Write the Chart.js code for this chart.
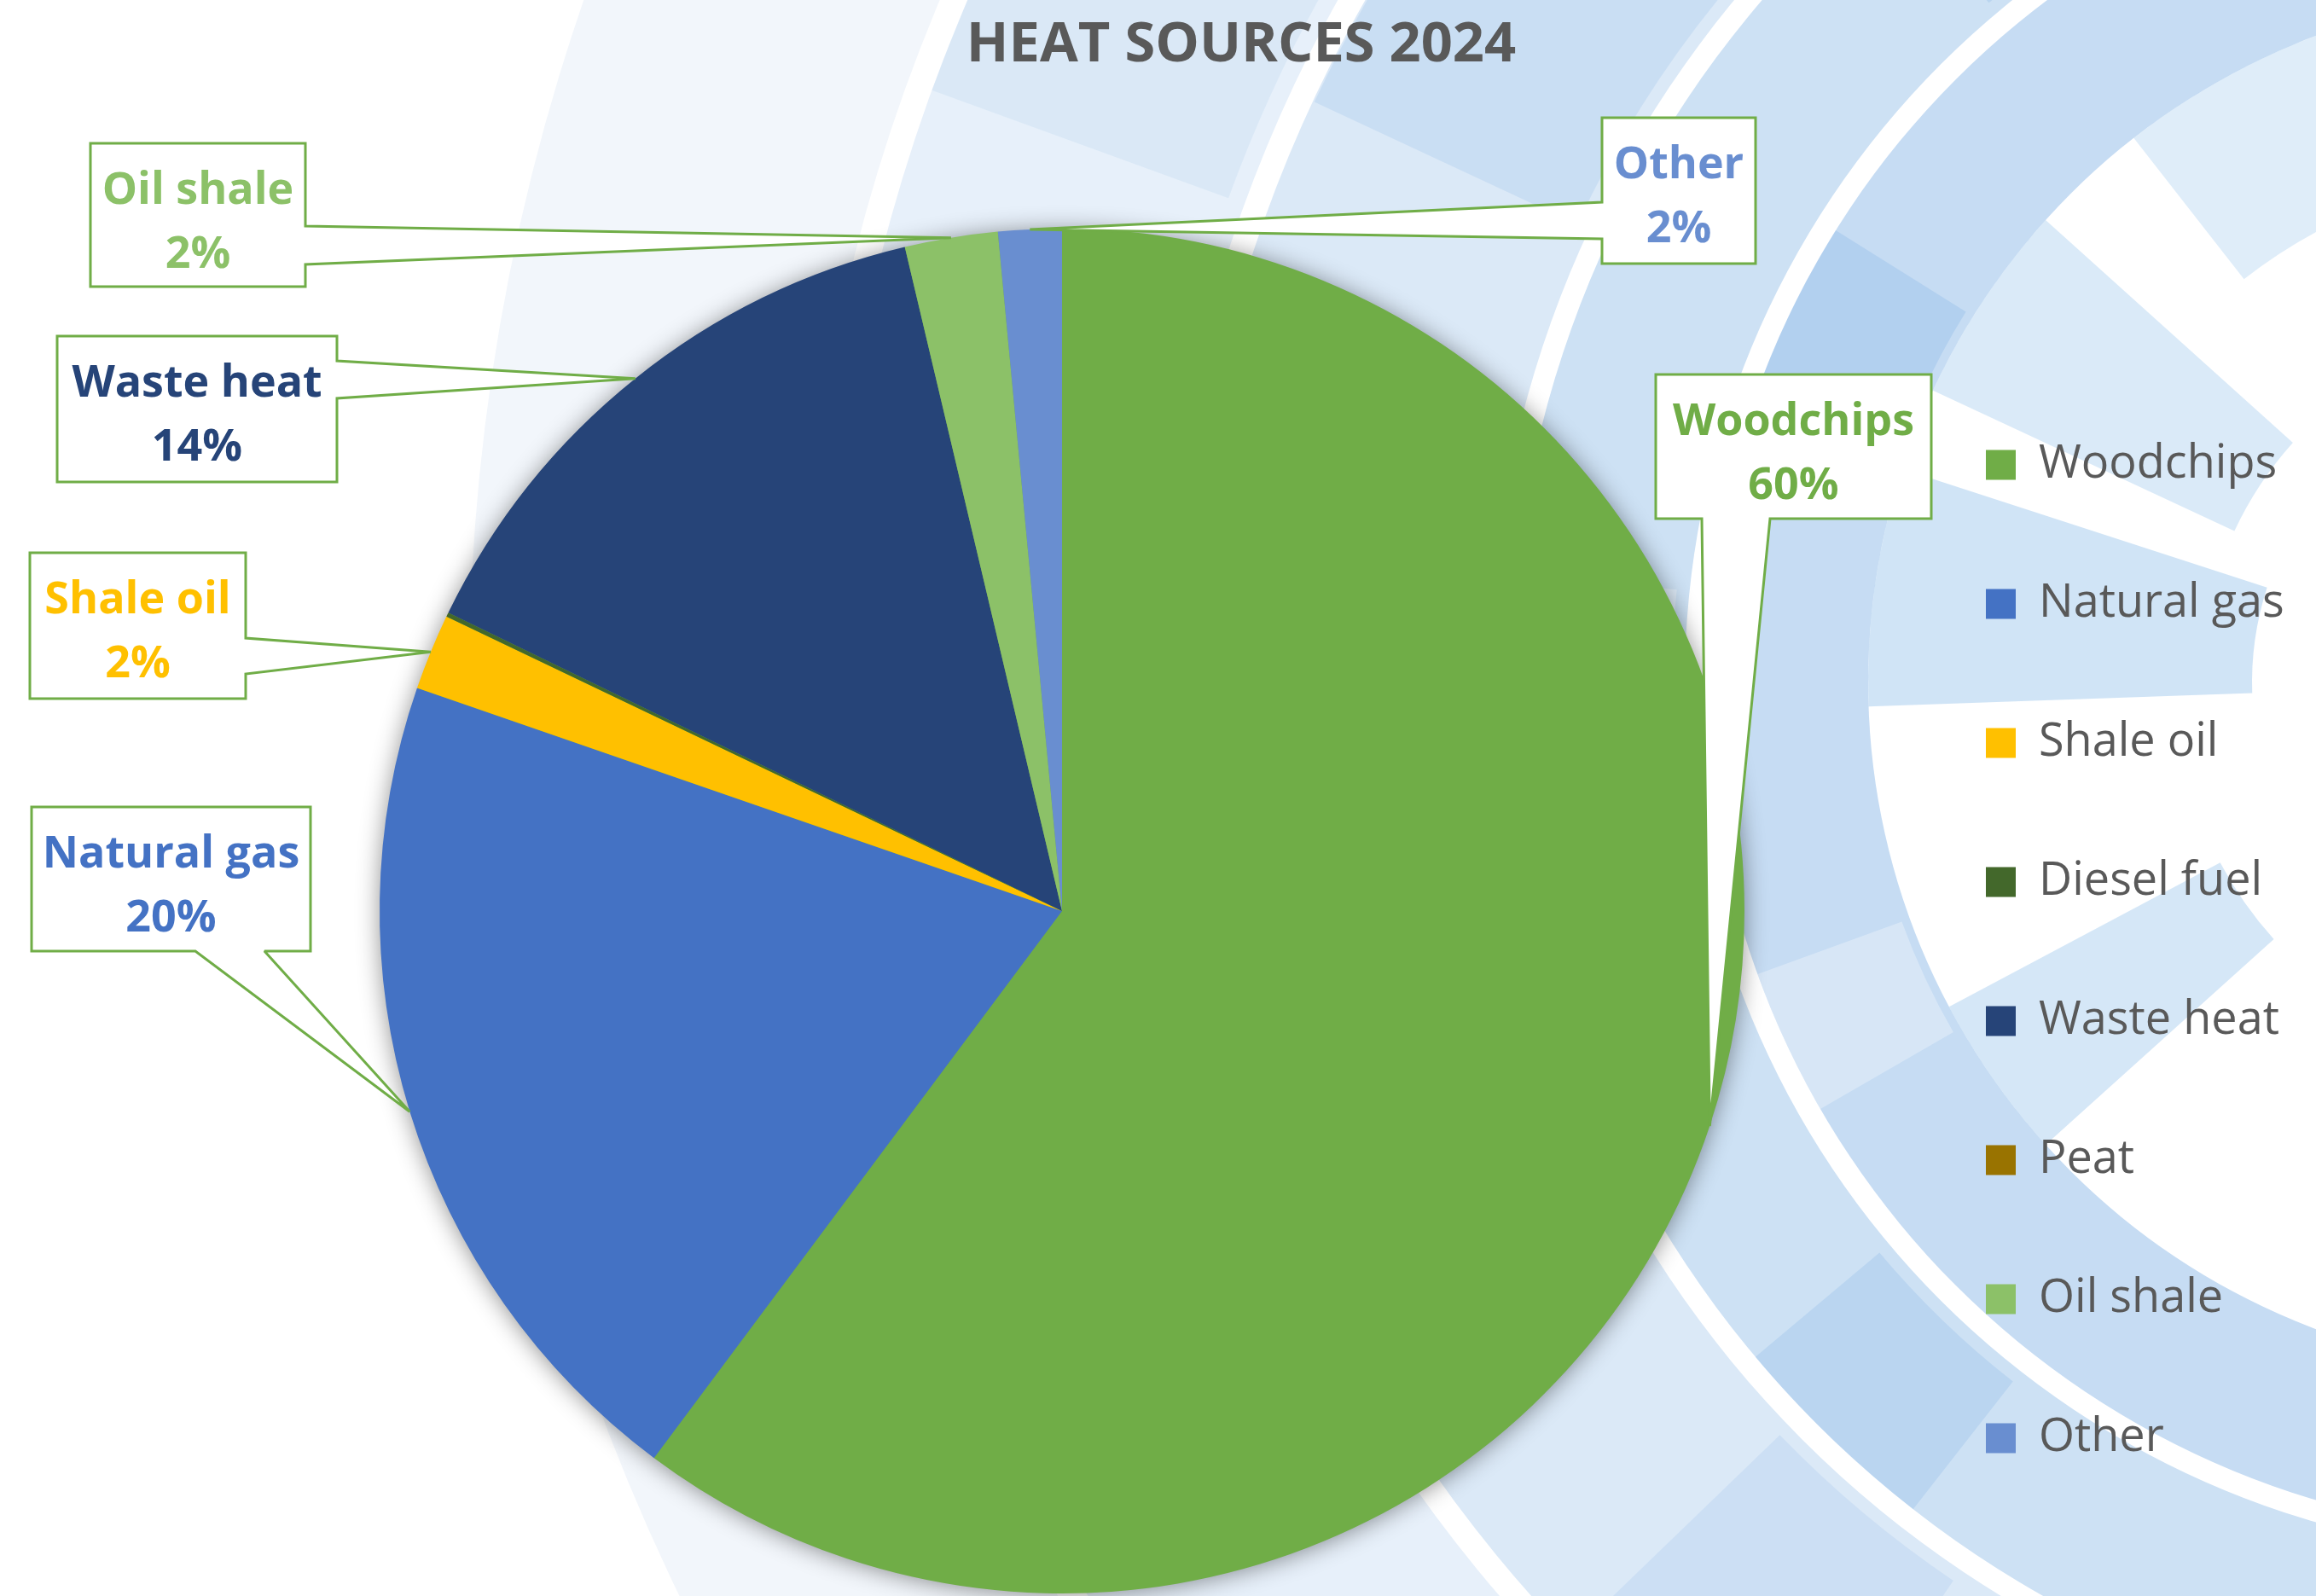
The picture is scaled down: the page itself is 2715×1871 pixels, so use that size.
<!DOCTYPE html>
<html>
<head>
<meta charset="utf-8">
<title>Heat sources 2024</title>
<script src="https://cdn.jsdelivr.net/npm/chart.js@4.4.1/dist/chart.umd.min.js"></script>
<style>
  html, body { margin: 0; padding: 0; background: #fff; }
  #wrap { width: 2715px; height: 1871px; }
</style>
</head>
<body>
<div id="wrap"><canvas id="heatChart" width="2715" height="1871"></canvas></div>
<script>
// ======== Data ========
const sources = ["Woodchips", "Natural gas", "Shale oil", "Diesel fuel", "Waste heat", "Peat", "Oil shale", "Other"];
const shares = [60.2, 20.1, 1.8, 0.1, 14.1, 0, 2.2, 1.5];
const colors = ["#70AD47", "#4472C4", "#FFC000", "#43682B", "#264478", "#997300", "#8CC168", "#698ED0"];
const chartTitle = "HEAT SOURCES 2024";

// callout boxes (label placement only), side = where the pointer leaves the box
const calloutBoxes = {
  "Woodchips":   { x: 1941, y: 439, w: 323, h: 169, side: "bottom", a: 1995, b: 2075 },
  "Natural gas": { x: 37,   y: 946, w: 327, h: 169, side: "bottom", a: 229,  b: 310 },
  "Shale oil":   { x: 35,   y: 648, w: 253, h: 171, side: "right",  a: 748,  b: 790 },
  "Waste heat":  { x: 67,   y: 394, w: 328, h: 171, side: "right",  a: 423,  b: 467 },
  "Oil shale":   { x: 106,  y: 168, w: 252, h: 168, side: "right",  a: 265,  b: 310 },
  "Other":       { x: 1878, y: 138, w: 180, h: 171, side: "left",   a: 237,  b: 280 },
};

// ======== Background rings (decoration) ========
const ringCenter = { x: 3000, y: 800 };
const rings = [
  { r: 2450, color: "#F2F6FB" },
  { r: 2060, color: "#FFFFFF" },
  { r: 2030, color: "#E7F0FA" },
  { r: 1640, color: "#FFFFFF" },
  { r: 1612, color: "#DBE9F7" },
  { r: 1255, color: "#FFFFFF" },
  { r: 1230, color: "#CDE1F4" },
  { r: 1025, color: "#FFFFFF" },
  { r: 1000, color: "#C6DCF3" },
  { r: 810,  color: "#FFFFFF" },
];
const ringPatches = [
  { r0: 1660, r1: 2030, a0: 200, a1: 214, color: "rgba(150,190,230,0.16)" },
  { r0: 1660, r1: 2030, a0: 150, a1: 160, color: "rgba(255,255,255,0.5)" },
  { r0: 1270, r1: 1610, a0: 205, a1: 222, color: "rgba(120,170,225,0.18)" },
  { r0: 1270, r1: 1610, a0: 160, a1: 172, color: "rgba(255,255,255,0.45)" },
  { r0: 1270, r1: 1610, a0: 124, a1: 136, color: "rgba(120,170,225,0.15)" },
  { r0: 1040, r1: 1230, a0: 230, a1: 246, color: "rgba(110,165,225,0.2)" },
  { r0: 1040, r1: 1230, a0: 128, a1: 140, color: "rgba(110,165,225,0.2)" },
  { r0: 1040, r1: 1230, a0: 176, a1: 186, color: "rgba(255,255,255,0.35)" },
  { r0: 820,  r1: 1000, a0: 196, a1: 212, color: "rgba(100,160,225,0.2)" },
  { r0: 820,  r1: 1000, a0: 150, a1: 160, color: "rgba(255,255,255,0.3)" },
  { r0: 360,  r1: 810,  a0: 178, a1: 198, color: "rgba(150,195,235,0.45)" },
  { r0: 420,  r1: 810,  a0: 205, a1: 222, color: "rgba(150,195,235,0.35)" },
  { r0: 450,  r1: 810,  a0: 138, a1: 152, color: "rgba(150,195,235,0.4)" },
  { r0: 600,  r1: 810,  a0: 232, a1: 250, color: "rgba(150,195,235,0.3)" },
];

const background = {
  id: "background",
  beforeDraw(chart) {
    const ctx = chart.ctx;
    ctx.save();
    ctx.fillStyle = "#fff";
    ctx.fillRect(0, 0, chart.width, chart.height);
    rings.forEach((ring) => {
      ctx.beginPath();
      ctx.arc(ringCenter.x, ringCenter.y, ring.r, 0, Math.PI * 2);
      ctx.fillStyle = ring.color;
      ctx.fill();
    });
    ringPatches.forEach((p) => {
      const a0 = (p.a0 * Math.PI) / 180;
      const a1 = (p.a1 * Math.PI) / 180;
      ctx.beginPath();
      ctx.arc(ringCenter.x, ringCenter.y, p.r1, a0, a1);
      ctx.arc(ringCenter.x, ringCenter.y, p.r0, a1, a0, true);
      ctx.closePath();
      ctx.fillStyle = p.color;
      ctx.fill();
    });
    ctx.restore();
  },
};

//legend text may run past the reserved legend box
const legendRoom = {
  id: "legendRoom",
  afterLayout(chart) {
    const lg = chart.legend;
    if (!lg) return;
    lg.right = chart.width;
    lg.width = lg.right - lg.left;
  },
};

//soft shadow under the pie
const pieShadow = {
  id: "pieShadow",
  beforeDatasetsDraw(chart) {
    const arc = chart.getDatasetMeta(0).data[0];
    if (!arc) return;
    const { x, y, outerRadius } = arc.getProps(["x", "y", "outerRadius"], true);
    const ctx = chart.ctx;
    ctx.save();
    ctx.shadowColor = "rgba(0,0,0,0.45)";
    ctx.shadowBlur = 28;
    ctx.shadowOffsetY = 2;
    ctx.beginPath();
    ctx.arc(x, y, outerRadius - 1, 0, Math.PI * 2);
    ctx.fillStyle = "#70AD47";
    ctx.fill();
    ctx.restore();
  },
};

//callouts with a wedge pointing at the slice
const callouts = {
  id: "callouts",
  afterDatasetsDraw(chart) {
    const ctx = chart.ctx;
    const values = chart.data.datasets[0].data;
    const total = values.reduce((s, v) => s + v, 0);
    chart.getDatasetMeta(0).data.forEach((arc, i) => {
      const name = chart.data.labels[i];
      const box = calloutBoxes[name];
      if (!box) return;
      const p = arc.getProps(["x", "y", "startAngle", "endAngle", "outerRadius"], true);
      const mid = (p.startAngle + p.endAngle) / 2;
      const tx = p.x + Math.cos(mid) * p.outerRadius;
      const ty = p.y + Math.sin(mid) * p.outerRadius;
      const L = box.x, T = box.y, R = box.x + box.w, B = box.y + box.h;

      ctx.save();
      ctx.beginPath();
      ctx.moveTo(L, T);
      ctx.lineTo(R, T);
      if (box.side === "right") {
        ctx.lineTo(R, box.a);
        ctx.lineTo(tx, ty);
        ctx.lineTo(R, box.b);
      }
      ctx.lineTo(R, B);
      if (box.side === "bottom") {
        ctx.lineTo(box.b, B);
        ctx.lineTo(tx, ty);
        ctx.lineTo(box.a, B);
      }
      ctx.lineTo(L, B);
      if (box.side === "left") {
        ctx.lineTo(L, box.b);
        ctx.lineTo(tx, ty);
        ctx.lineTo(L, box.a);
      }
      ctx.closePath();
      ctx.fillStyle = "#fff";
      ctx.fill();
      ctx.lineWidth = 3;
      ctx.lineJoin = "miter";
      ctx.miterLimit = 2;
      ctx.strokeStyle = "#70AD47";
      ctx.stroke();

      ctx.fillStyle = chart.data.datasets[0].backgroundColor[i];
      ctx.font = "bold 52px 'Open Sans'";
      ctx.textAlign = "center";
      ctx.textBaseline = "alphabetic";
      const cx = (L + R) / 2;
      ctx.fillText(name, cx, T + 71);
      ctx.fillText(Math.round((values[i] / total) * 100) + "%", cx, T + 146);
      ctx.restore();
    });
  },
};

Chart.defaults.font.family = "'Open Sans', sans-serif";

new Chart(document.getElementById("heatChart"), {
  type: "pie",
  data: {
    labels: sources,
    datasets: [
      {
        data: shares,
        backgroundColor: colors,
        borderWidth: 0,
        hoverOffset: 0,
        offset: 0,
      },
    ],
  },
  options: {
    responsive: false,
    animation: false,
    events: [],
    layout: { padding: { left: 271, right: 76, top: 0, bottom: 3 } },
    plugins: {
      title: {
        display: true,
        text: chartTitle,
        color: "#595959",
        font: { size: 65, weight: "bold" },
        padding: { top: 14, bottom: 176 },
      },
      legend: {
        position: "right",
        fullSize: false,
        maxWidth: 420,
        title: { display: true, text: "", font: { size: 10, lineHeight: 1 }, padding: { top: 85, bottom: 0 } },
        labels: {
          boxWidth: 35,
          boxHeight: 35,
          padding: 109,
          color: "#595959",
          font: { size: 54 },
        },
      },
      tooltip: { enabled: false },
    },
  },
  plugins: [background, legendRoom, pieShadow, callouts],
});
</script>
</body>
</html>
